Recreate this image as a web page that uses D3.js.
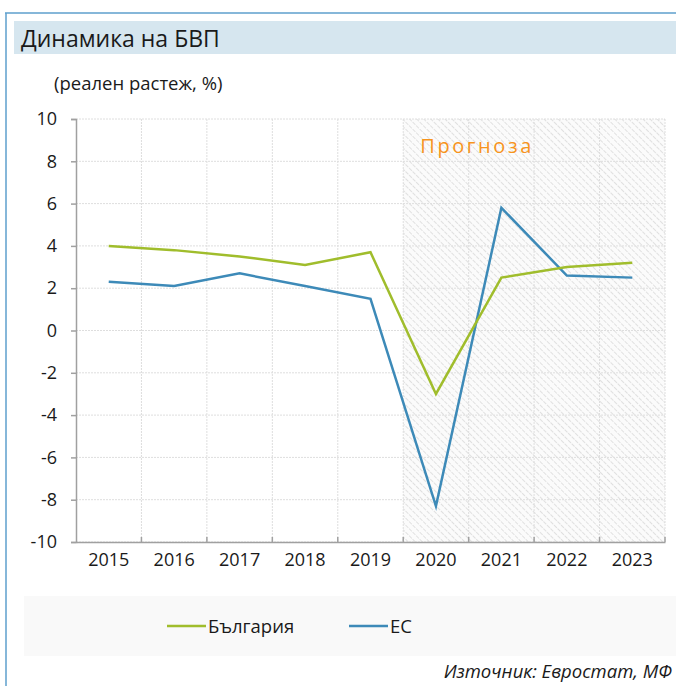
<!DOCTYPE html>
<html>
<head>
<meta charset="utf-8">
<script src="https://cdn.jsdelivr.net/npm/d3@7"></script>
<style>
  body { margin: 0; background: #fff; }
  text { font-family: "Open Sans", "Noto Sans", sans-serif; fill: #1a1a1a; }
</style>
</head>
<body>
<script>
// chart data
const years = ["2015", "2016", "2017", "2018", "2019", "2020", "2021", "2022", "2023"];
const bulgaria = [4.0, 3.8, 3.5, 3.1, 3.7, -3.0, 2.5, 3.0, 3.2];
const eu = [2.3, 2.1, 2.7, 2.1, 1.5, -8.3, 5.8, 2.6, 2.5];
const yTicks = [-10, -8, -6, -4, -2, 0, 2, 4, 6, 8, 10];
const forecastFrom = "2020";

const width = 676;
const height = 686;

const svg = d3.select("body")
    .append("svg")
    .attr("width", width)
    .attr("height", height);

// hatch pattern for forecast area
const defs = svg.append("defs");
const pat = defs.append("pattern")
    .attr("id", "hatch")
    .attr("patternUnits", "userSpaceOnUse")
    .attr("width", 5)
    .attr("height", 5)
    .attr("patternTransform", "rotate(-45)");
pat.append("rect").attr("width", 5).attr("height", 5).attr("fill", "#fbfbfb");
pat.append("line")
    .attr("x1", 0).attr("y1", 0).attr("x2", 0).attr("y2", 5)
    .attr("stroke", "#dadada")
    .attr("stroke-width", 1.6)
    .attr("stroke-dasharray", "2,1");

// frame
svg.append("line")
    .attr("x1", 6).attr("y1", 13).attr("x2", 6).attr("y2", height)
    .attr("stroke", "#5e9fcc").attr("stroke-width", 1.5);
svg.append("line")
    .attr("x1", 5).attr("y1", 13).attr("x2", width).attr("y2", 13)
    .attr("stroke", "#5e9fcc").attr("stroke-width", 1.5);

// title band
svg.append("rect")
    .attr("x", 14).attr("y", 21)
    .attr("width", width - 14).attr("height", 33)
    .attr("fill", "#d6e6ef");
svg.append("text")
    .attr("x", 21).attr("y", 47)
    .attr("font-size", 23)
    .text("Динамика на БВП");

svg.append("text")
    .attr("x", 54).attr("y", 90)
    .attr("font-size", 18.5)
    .text("(реален растеж, %)");

const margin = { top: 119, right: 11, bottom: 144, left: 76 };

const x = d3.scaleBand()
    .domain(years)
    .range([margin.left, width - margin.right]);

const y = d3.scaleLinear()
    .domain([-10, 10])
    .range([height - margin.bottom, margin.top]);

// forecast area
svg.append("rect")
    .attr("x", x(forecastFrom))
    .attr("y", y(10))
    .attr("width", x.range()[1] - x(forecastFrom))
    .attr("height", y(-10) - y(10))
    .attr("fill", "url(#hatch)");

// gridlines
svg.append("g")
    .selectAll("line")
    .data(yTicks)
    .join("line")
    .attr("x1", margin.left)
    .attr("x2", width - margin.right)
    .attr("y1", (d) => y(d))
    .attr("y2", (d) => y(d))
    .attr("stroke", "#dedede")
    .attr("stroke-dasharray", "2,1");

svg.append("g")
    .selectAll("line")
    .data(years.slice(1).concat(["end"]))
    .join("line")
    .attr("x1", (d) => (d === "end" ? x.range()[1] : x(d)))
    .attr("x2", (d) => (d === "end" ? x.range()[1] : x(d)))
    .attr("y1", y(10))
    .attr("y2", y(-10))
    .attr("stroke", "#dedede")
    .attr("stroke-dasharray", "2,1");

// y axis
const yAxis = svg.append("g")
    .attr("transform", `translate(${margin.left},0)`)
    .call(d3.axisLeft(y).tickValues(yTicks).tickFormat((d) => String(d)).tickSize(5).tickPadding(14));
yAxis.select(".domain").attr("stroke", "#a0a0a0").attr("stroke-width", 1.5);
yAxis.selectAll(".tick line").attr("stroke", "#a0a0a0").attr("stroke-width", 1.5);
yAxis.selectAll(".tick text")
    .attr("font-size", 18)
    .attr("font-family", "Open Sans, sans-serif")
    .attr("fill", "#1a1a1a");

// x axis
const xAxis = svg.append("g")
    .attr("transform", `translate(0,${y(-10)})`)
    .call(d3.axisBottom(x).tickSize(0).tickPadding(11));
xAxis.select(".domain").attr("stroke", "#a0a0a0").attr("stroke-width", 1.5);
xAxis.selectAll(".tick text")
    .attr("font-size", 18)
    .attr("font-family", "Open Sans, sans-serif")
    .attr("fill", "#1a1a1a");
svg.append("g")
    .selectAll("line")
    .data(years.slice(1).concat(["end"]))
    .join("line")
    .attr("x1", (d) => (d === "end" ? x.range()[1] : x(d)))
    .attr("x2", (d) => (d === "end" ? x.range()[1] : x(d)))
    .attr("y1", y(-10))
    .attr("y2", y(-10) - 5)
    .attr("stroke", "#a0a0a0")
    .attr("stroke-width", 1.5);

// forecast label
svg.append("text")
    .attr("x", x(forecastFrom) + 17)
    .attr("y", 153)
    .attr("font-size", 20)
    .attr("letter-spacing", 2.6)
    .style("fill", "#f7941d")
    .text("Прогноза");

// lines
const line = d3.line()
    .x((d, i) => x(years[i]) + x.bandwidth() / 2)
    .y((d) => y(d));

svg.append("path")
    .datum(eu)
    .attr("d", line)
    .attr("fill", "none")
    .attr("stroke", "#3d8ab8")
    .attr("stroke-width", 2.5);

svg.append("path")
    .datum(bulgaria)
    .attr("d", line)
    .attr("fill", "none")
    .attr("stroke", "#a0bd2c")
    .attr("stroke-width", 2.5);

// legend
svg.append("rect")
    .attr("x", 24).attr("y", 596)
    .attr("width", width - 24).attr("height", 60)
    .attr("fill", "#f9f9f9");

const legendItems = [
    { name: "България", color: "#a0bd2c", x: 167 },
    { name: "ЕС", color: "#3d8ab8", x: 349 },
];
const lg = svg.append("g")
    .selectAll("g")
    .data(legendItems)
    .join("g")
    .attr("transform", (d) => `translate(${d.x},626)`);
lg.append("line")
    .attr("x1", 0).attr("x2", 39)
    .attr("stroke", (d) => d.color)
    .attr("stroke-width", 2.5);
lg.append("text")
    .attr("x", 41).attr("y", 7)
    .attr("font-size", 18.5)
    .text((d) => d.name);

// source
svg.append("text")
    .attr("x", 672).attr("y", 678)
    .attr("text-anchor", "end")
    .attr("font-size", 18.5)
    .attr("font-style", "italic")
    .text("Източник: Евростат, МФ");
</script>
</body>
</html>
